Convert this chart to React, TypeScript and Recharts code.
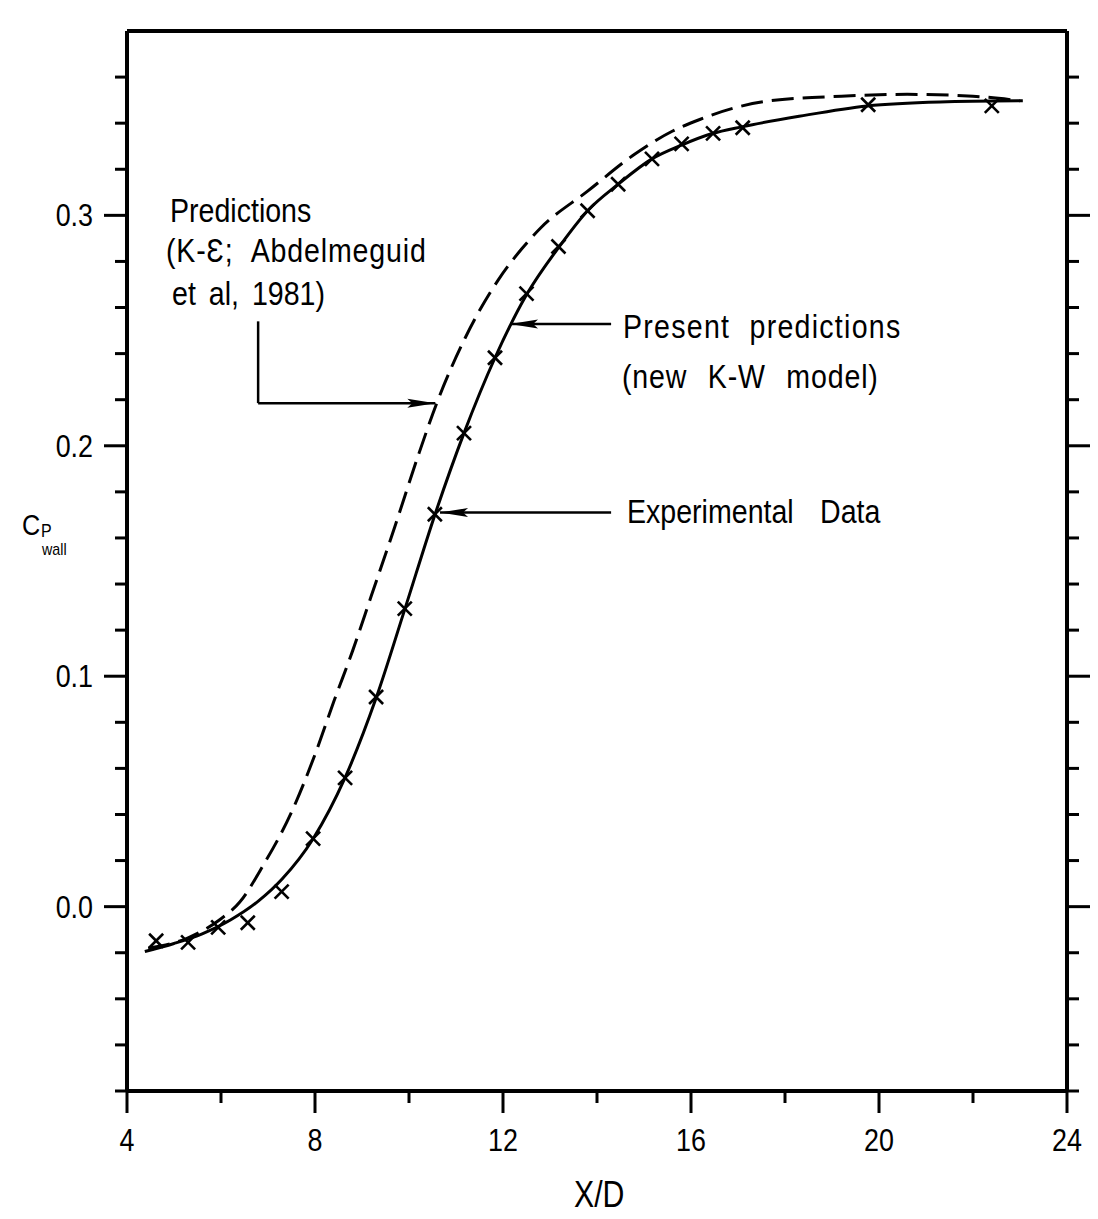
import React from "react";
import {
  ComposedChart,
  Line,
  Scatter,
  XAxis,
  YAxis,
  ReferenceLine,
} from "recharts";

// axis ticks
const xTicks = [4, 6, 8, 10, 12, 14, 16, 18, 20, 22, 24];
const xMajor = [4, 8, 12, 16, 20, 24];
const yTicks = [
  -0.08, -0.06, -0.04, -0.02, 0, 0.02, 0.04, 0.06, 0.08, 0.1, 0.12, 0.14, 0.16,
  0.18, 0.2, 0.22, 0.24, 0.26, 0.28, 0.3, 0.32, 0.34, 0.36,
];
const yMajor = [0, 0.1, 0.2, 0.3];

// present predictions (new K-W model), solid
const presentX = [4.38, 5.0, 5.6, 6.2, 6.8, 7.3, 7.96, 8.64, 9.3, 9.91, 10.55, 11.17, 11.83, 12.5, 13.2, 13.8, 14.45, 15.17, 15.8, 16.45, 17.1, 18.3, 19.75, 21.3, 23.06];
const presentY = [-0.0195, -0.016, -0.0118, -0.0058, 0.0025, 0.012, 0.0295, 0.056, 0.0905, 0.129, 0.17, 0.2055, 0.2382, 0.2655, 0.2865, 0.302, 0.3135, 0.3245, 0.3305, 0.3355, 0.3385, 0.343, 0.3475, 0.3492, 0.3497];

// K-epsilon predictions (Abdelmeguid et al, 1981), dashed
const keX = [4.45, 5.3, 5.95, 6.4, 6.9, 7.5, 8.0, 8.4, 8.8, 9.2, 9.7, 10.2, 10.6, 11.2, 11.9, 12.4, 12.8, 13.8, 14.8, 15.6, 16.2, 16.9, 17.6, 19.2, 20.6, 22.0, 23.0];
const keY = [-0.018, -0.0135, -0.006, 0.002, 0.018, 0.041, 0.066, 0.089, 0.111, 0.135, 0.165, 0.196, 0.219, 0.247, 0.272, 0.2855, 0.2945, 0.3105, 0.3265, 0.3365, 0.3417, 0.3465, 0.3495, 0.3517, 0.3525, 0.3517, 0.3497];

// experimental data
const expX = [4.62, 5.3, 5.94, 6.57, 7.29, 7.96, 8.64, 9.3, 9.91, 10.55, 11.17, 11.83, 12.5, 13.18, 13.8, 14.45, 15.17, 15.8, 16.47, 17.1, 19.77, 22.4];
const expY = [-0.0148, -0.0155, -0.009, -0.007, 0.0065, 0.0295, 0.0559, 0.091, 0.1293, 0.1703, 0.2055, 0.2382, 0.266, 0.2865, 0.302, 0.3135, 0.3245, 0.331, 0.3356, 0.338, 0.348, 0.3475];

// annotation arrows (data coords)
const predArrowV = [{ x: 6.79, y: 0.254 }, { x: 6.79, y: 0.2185 }];
const predArrowH = [{ x: 6.79, y: 0.2185 }, { x: 10.56, y: 0.2185 }];
const presentArrow = [{ x: 14.3, y: 0.2528 }, { x: 12.15, y: 0.2528 }];
const expArrow = [{ x: 14.3, y: 0.171 }, { x: 10.66, y: 0.171 }];
const arrowTips = [
  { x: 10.56, y: 0.2185, dir: 1 },
  { x: 12.15, y: 0.2528, dir: -1 },
  { x: 10.66, y: 0.171, dir: -1 },
];

const zip = (xs: number[], ys: number[]) => xs.map((x, i) => ({ x, y: ys[i] }));
const presentData = zip(presentX, presentY);
const keData = zip(keX, keY);
const expData = zip(expX, expY);

const FONT = '"Liberation Sans", Arial, sans-serif';
const SQUEEZE = 0.84;

const near = (a: number, list: number[]) => list.some((b) => Math.abs(a - b) < 1e-6);

function LeftTick({ x, y, payload }: any) {
  const major = near(payload.value, yMajor);
  const len = major ? 23 : 12;
  return (
    <g>
      <line x1={x} y1={y} x2={x - len} y2={y} stroke="#000" strokeWidth={3} />
      {major && (
        <text
          transform={`translate(${x - 34},${y + 11}) scale(${SQUEEZE},1)`}
          textAnchor="end"
          fontSize={32}
          fontFamily={FONT}
          fill="#000"
        >
          {payload.value.toFixed(1)}
        </text>
      )}
    </g>
  );
}

function RightTick({ x, y, payload }: any) {
  const len = near(payload.value, yMajor) ? 23 : 12;
  return <line x1={x} y1={y} x2={x + len} y2={y} stroke="#000" strokeWidth={3} />;
}

function BottomTick({ x, y, payload }: any) {
  const major = near(payload.value, xMajor);
  const len = major ? 22 : 12;
  return (
    <g>
      <line x1={x} y1={y} x2={x} y2={y + len} stroke="#000" strokeWidth={3} />
      {major && (
        <text
          transform={`translate(${x},${y + 60}) scale(${SQUEEZE},1)`}
          textAnchor="middle"
          fontSize={32}
          fontFamily={FONT}
          fill="#000"
        >
          {payload.value}
        </text>
      )}
    </g>
  );
}

function TopTick({ x, y, payload }: any) {
  const len = near(payload.value, xMajor) ? 21 : 11;
  return <line x1={x} y1={y} x2={x} y2={y - len} stroke="#000" strokeWidth={3} />;
}

const Cross = (p: any) => {
  const { cx, cy } = p;
  const s = 7;
  return (
    <g stroke="#000" strokeWidth={2.6}>
      <line x1={cx - s} y1={cy - s} x2={cx + s} y2={cy + s} />
      <line x1={cx - s} y1={cy + s} x2={cx + s} y2={cy - s} />
    </g>
  );
};

const ArrowHead = (p: any) => {
  const { cx, cy, payload } = p;
  const d = payload.dir;
  const back = cx - d * 28;
  return (
    <polygon
      points={`${cx},${cy} ${back},${cy - 4.5} ${back + d * 5},${cy} ${back},${cy + 4.5}`}
      fill="#000"
    />
  );
};

const textStyle: React.CSSProperties = {
  position: "absolute",
  fontFamily: FONT,
  fontSize: 34,
  lineHeight: "34px",
  color: "#000",
  whiteSpace: "pre",
  transform: `scaleX(${SQUEEZE})`,
  transformOrigin: "0 0",
};

export default function App() {
  return (
    <div style={{ position: "absolute", left: 0, top: 0, width: 1098, height: 1219, background: "#fff" }}>
      <ComposedChart
        width={1098}
        height={1219}
        margin={{ top: 0, right: 0, bottom: 0, left: 0 }}
      >
        <XAxis
          xAxisId="b"
          dataKey="x"
          type="number"
          domain={[4, 24]}
          ticks={xTicks}
          interval={0}
          height={128}
          allowDataOverflow
          axisLine={{ stroke: "#000", strokeWidth: 4 }}
          tickLine={false}
          tickSize={0}
          tickMargin={0}
          tick={<BottomTick />}
        />
        <XAxis
          xAxisId="t"
          orientation="top"
          type="number"
          domain={[4, 24]}
          ticks={xTicks}
          interval={0}
          height={31}
          allowDataOverflow
          axisLine={{ stroke: "#000", strokeWidth: 4 }}
          tickLine={false}
          tickSize={0}
          tickMargin={0}
          tick={<TopTick />}
        />
        <YAxis
          yAxisId="l"
          dataKey="y"
          type="number"
          domain={[-0.08, 0.38]}
          ticks={yTicks}
          interval={0}
          width={127}
          allowDataOverflow
          axisLine={{ stroke: "#000", strokeWidth: 4 }}
          tickLine={false}
          tickSize={0}
          tickMargin={0}
          tick={<LeftTick />}
        />
        <YAxis
          yAxisId="r"
          orientation="right"
          type="number"
          domain={[-0.08, 0.38]}
          ticks={yTicks}
          interval={0}
          width={31}
          allowDataOverflow
          axisLine={{ stroke: "#000", strokeWidth: 4 }}
          tickLine={false}
          tickSize={0}
          tickMargin={0}
          tick={<RightTick />}
        />

        <Line
          xAxisId="b"
          yAxisId="l"
          data={keData}
          dataKey="y"
          type="monotone"
          dot={false}
          stroke="#000"
          strokeWidth={3}
          strokeDasharray="22 9"
          isAnimationActive={false}
        />
        <Line
          xAxisId="b"
          yAxisId="l"
          data={presentData}
          dataKey="y"
          type="monotone"
          dot={false}
          stroke="#000"
          strokeWidth={3}
          isAnimationActive={false}
        />
        <Scatter
          xAxisId="b"
          yAxisId="l"
          data={expData}
          shape={Cross}
          isAnimationActive={false}
        />

        <ReferenceLine xAxisId="b" yAxisId="l" segment={predArrowV} stroke="#000" strokeWidth={2.5} ifOverflow="visible" />
        <ReferenceLine xAxisId="b" yAxisId="l" segment={predArrowH} stroke="#000" strokeWidth={2.5} ifOverflow="visible" />
        <ReferenceLine xAxisId="b" yAxisId="l" segment={presentArrow} stroke="#000" strokeWidth={2.5} ifOverflow="visible" />
        <ReferenceLine xAxisId="b" yAxisId="l" segment={expArrow} stroke="#000" strokeWidth={2.5} ifOverflow="visible" />
        <Scatter
          xAxisId="b"
          yAxisId="l"
          data={arrowTips}
          shape={ArrowHead}
          isAnimationActive={false}
        />
      </ComposedChart>

      <div style={{ ...textStyle, left: 170, top: 193 }}>Predictions</div>
      <div style={{ ...textStyle, left: 166, top: 233, letterSpacing: 1, wordSpacing: 12 }}>(K-Ɛ; Abdelmeguid</div>
      <div style={{ ...textStyle, left: 172, top: 276, wordSpacing: 6 }}>et al, 1981)</div>
      <div style={{ ...textStyle, left: 623, top: 309, letterSpacing: 1.5, wordSpacing: 12 }}>Present predictions</div>
      <div style={{ ...textStyle, left: 622, top: 359, letterSpacing: 1, wordSpacing: 14 }}>(new K-W model)</div>
      <div style={{ ...textStyle, left: 627, top: 494, wordSpacing: 22 }}>Experimental Data</div>

      <div style={{ ...textStyle, left: 574, top: 1178, fontSize: 36 }}>X/D</div>

      <div style={{ ...textStyle, left: 22, top: 510, fontSize: 30, lineHeight: "30px" }}>C</div>
      <div style={{ ...textStyle, left: 41, top: 521, fontSize: 19, lineHeight: "19px" }}>P</div>
      <div style={{ ...textStyle, left: 42, top: 541, fontSize: 17, lineHeight: "17px" }}>wall</div>
    </div>
  );
}
